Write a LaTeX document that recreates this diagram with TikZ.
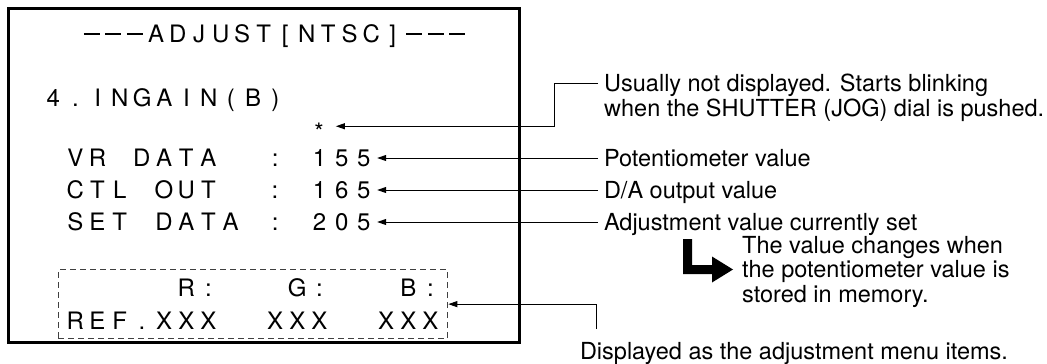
\documentclass[tikz,border=0pt]{standalone}
\usepackage{fontspec}
\setmainfont{TeX Gyre Heros}
\newfontfamily\osdfont{TeX Gyre Heros}
\usepackage{tikz}
\usetikzlibrary{arrows.meta,positioning,fit}

\newlength\osdpitch
\newcommand\osddash{\rule[7.6pt]{16pt}{1.7pt}}
\newcommand\osdcells[2][22.2pt]{\setlength\osdpitch{#1}\osdnext#2\relax}
\newcommand\osdnext[1]{\ifx#1\relax\else\makebox[\osdpitch]{#1}\expandafter\osdnext\fi}

\begin{document}
\begin{tikzpicture}[x=1pt, y=-1pt,
  osdrow/.style={font=\osdfont\fontsize{24}{24}\selectfont, inner sep=0pt, anchor=base west},
  note/.style={font=\fontsize{23.5}{24.5}\selectfont, inner sep=0pt, outer xsep=6pt,
    text height=16.9pt, text depth=0pt, anchor=west},
  notelines/.style={font=\fontsize{23.5}{24.5}\selectfont, inner sep=0pt, align=left, anchor=north west},
  pointer/.style={line width=1pt, -{Triangle[length=9pt,width=6pt]}}]
  \useasboundingbox (0,0) rectangle (1047,364);
  \draw[line width=3pt] (8.5,8.5) rectangle (519,342.5);

  \node[osdrow, anchor=base] (title) at (274.5,42.6) {\osdcells[21.5pt]{\osddash\osddash\osddash ADJUST[NTSC]\osddash\osddash\osddash}};
  \node[osdrow] (ingain) at (42,106.6) {\osdcells{4.INGAIN(B)}};
  \node[osdrow, anchor=base] (star) at (319,140) {*};
  \node[osdrow] (vrdata) at (64,166.6) {\osdcells{VR~DATA~~:~155}};
  \node[osdrow] (ctlout) at (64,198.6) {\osdcells{CTL~OUT~~:~165}};
  \node[osdrow] (setdata) at (64,230.6) {\osdcells{SET~DATA~:~205}};
  \node[osdrow] (rgbhead) at (64,296.6) {\osdcells{~~~~~R:~~~G:~~~B:}};
  \node[osdrow] (refrow) at (64,329.6) {\osdcells{REF.XXX~~XXX~~XXX}};
  \node[draw=black!75, line width=1pt, dash pattern=on 6pt off 4pt, inner xsep=6pt, inner ysep=8.5pt,
    fit=(rgbhead)(refrow)] (menubox) {};

  \node[notelines] (starnote) at (604,74) {Usually not displayed. Starts blinking\\when the SHUTTER (JOG) dial is pushed.};
  \node[note] (potnote) at (598,158) {Potentiometer value};
  \node[note] (danote) at (598,190) {D/A output value};
  \node[note] (setnote) at (598,222) {Adjustment value currently set};
  \node[notelines] (memnote) at (742,236) {The value changes when\\the potentiometer value is\\stored in memory.};
  \node[note] (menunote) at (574,351) {Displayed as the adjustment menu items.};

  \coordinate (starend) at (598,83);
  \coordinate (menuend) at (596,329);
  \draw[pointer, shorten >=12pt] (starend) -- ++(-44,0) |- ([yshift=5pt]star.east);
  \draw[pointer, shorten >=2pt] (potnote.west) -- (potnote.west -| vrdata.east);
  \draw[pointer, shorten >=2pt] (danote.west) -- (danote.west -| ctlout.east);
  \draw[pointer, shorten >=2pt] (setnote.west) -- (setnote.west -| setdata.east);
  \draw[pointer] (menuend) |- (menubox.east);
  \fill (683,239) -- (692,239) -- (692,265) -- (712,265) -- (712,256.5) -- (733,269.5)
    -- (712,282.5) -- (712,274) -- (683,274) -- cycle;
\end{tikzpicture}
\end{document}
